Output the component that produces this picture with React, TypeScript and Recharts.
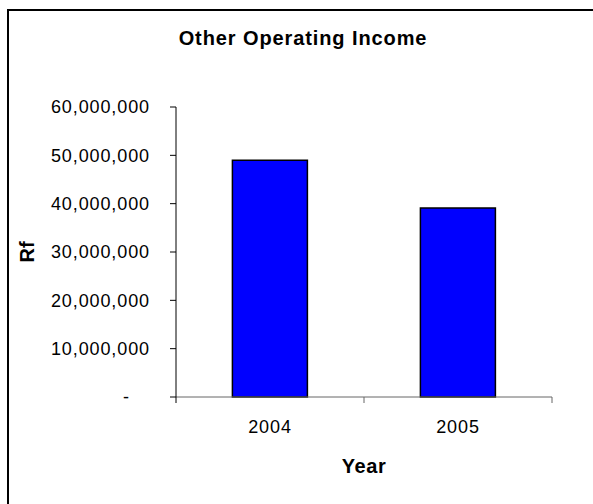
import React from "react"
import { BarChart, Bar, XAxis, YAxis, Label } from "recharts"

// Other Operating Income, Rf, by year
const years = ["2004", "2005"]
const income = [49000000, 39100000]
const yTicks = [0, 10000000, 20000000, 30000000, 40000000, 50000000, 60000000]

const data = years.map((year, i) => ({ year, income: income[i] }))

const FONT = "'Liberation Sans', Arial, sans-serif"

const fmt = (v: number) => (v === 0 ? "-" : v.toLocaleString("en-US"))

// y tick: accounting style, zero shows as a dash set in from the right
function YTick(props: any) {
  const { x, y, payload } = props
  const zero = payload.value === 0
  return (
    <text
      x={zero ? x - 20 : x}
      y={y}
      dy="0.36em"
      textAnchor="end"
      fontFamily={FONT}
      fontSize={18}
      letterSpacing={0.9}
      fill="#000"
    >
      {fmt(payload.value)}
    </text>
  )
}

// x tick: label in the middle, tick marks on the category edges
function XTick(props: any) {
  const { x, y, payload, index } = props
  const half = payload.offset ?? 94
  const axisY = y - 6
  return (
    <g>
      {index === 0 && (
        <line x1={x - half} x2={x - half} y1={axisY} y2={axisY + 6} stroke="#000" />
      )}
      <line x1={x + half} x2={x + half} y1={axisY} y2={axisY + 6} stroke="#666" />
      <text
        x={x}
        y={axisY + 23}
        dy="0.71em"
        textAnchor="middle"
        fontFamily={FONT}
        fontSize={18}
        letterSpacing={0.9}
        fill="#000"
      >
        {payload.value}
      </text>
    </g>
  )
}

export default function App() {
  return (
    <div style={{ position: "absolute", left: 0, top: 0, width: 593, height: 504, background: "#fff" }}>
      <div
        style={{
          position: "absolute",
          left: 7,
          top: 9,
          width: 586,
          height: 495,
          borderTop: "2px solid #000",
          borderLeft: "2px solid #000",
          boxSizing: "border-box",
        }}
      />
      <div
        style={{
          position: "absolute",
          left: 0,
          width: 606,
          top: 25,
          textAlign: "center",
          fontFamily: FONT,
          fontWeight: "bold",
          fontSize: 20,
          letterSpacing: 0.9,
          lineHeight: "26px",
        }}
      >
        Other Operating Income
      </div>
      <div style={{ position: "absolute", left: 0, top: 0 }}>
        <BarChart
          width={593}
          height={504}
          data={data}
          margin={{ top: 107, right: 41, left: 0, bottom: 0 }}
          barCategoryGap="30%"
        >
          <XAxis
            dataKey="year"
            height={107}
            stroke="#666"
            tickLine={false}
            tickMargin={0}
            tick={<XTick />}
            interval={0}
          >
            <Label
              content={(p: any) => {
                const vb = p.viewBox
                return (
                  <text
                    x={vb.x + vb.width / 2}
                    y={vb.y + 76}
                    textAnchor="middle"
                    fontFamily={FONT}
                    fontWeight="bold"
                    fontSize={20}
                    letterSpacing={0.6}
                  >
                    Year
                  </text>
                )
              }}
            />
          </XAxis>
          <YAxis
            width={176}
            domain={[0, 60000000]}
            ticks={yTicks}
            interval={0}
            stroke="#000"
            tickSize={6}
            tickMargin={20}
            tick={<YTick />}
          >
            <Label
              content={(p: any) => {
                const vb = p.viewBox
                const cx = 27
                const cy = vb.y + vb.height / 2
                return (
                  <text
                    x={cx}
                    y={cy}
                    dy="0.36em"
                    textAnchor="middle"
                    transform={`rotate(-90, ${cx}, ${cy})`}
                    fontFamily={FONT}
                    fontWeight="bold"
                    fontSize={20}
                  >
                    Rf
                  </text>
                )
              }}
            />
          </YAxis>
          <Bar
            dataKey="income"
            fill="#0000FF"
            stroke="#000"
            strokeWidth={1.5}
            isAnimationActive={false}
          />
        </BarChart>
      </div>
    </div>
  )
}
